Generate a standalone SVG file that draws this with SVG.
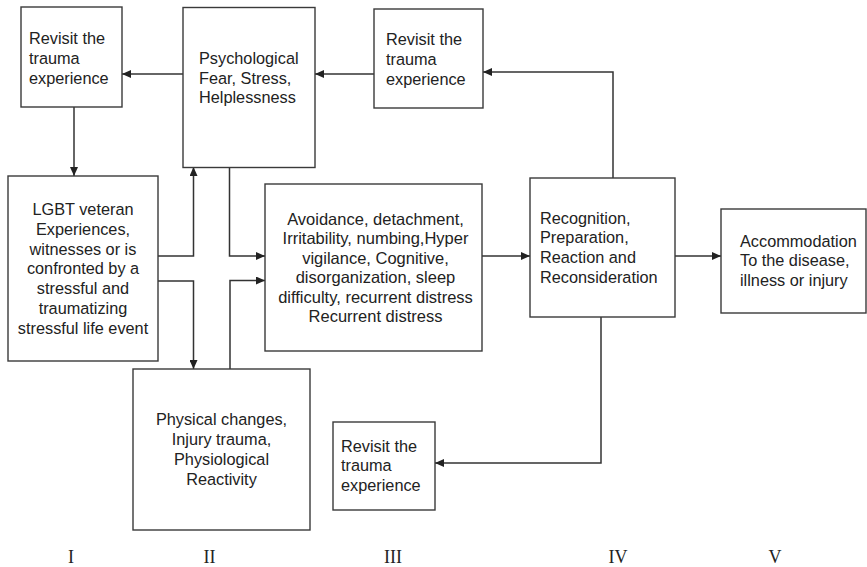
<svg xmlns="http://www.w3.org/2000/svg" width="867" height="567" viewBox="0 0 867 567">
<style>
.box{fill:#fff;stroke:#3a3a3a;stroke-width:1.4}
.t{font-family:"Liberation Sans",Arial,sans-serif;font-size:16.3px;fill:#222}
.c{text-anchor:middle}
.f{font-size:16.5px}
.num{font-family:"Liberation Serif","Times New Roman",serif;font-size:18px;fill:#222;text-anchor:middle}
.ln{fill:none;stroke:#333;stroke-width:1.5}
</style>
<defs>
<marker id="ah" markerUnits="userSpaceOnUse" markerWidth="10" markerHeight="8" refX="9" refY="4" orient="auto">
<path d="M0,0 L9,4 L0,8 z" fill="#222"/>
</marker>
</defs>
<rect width="867" height="567" fill="#fff"/>
<g id="connectors">
<path class="ln" d="M183,74 H122" marker-end="url(#ah)"/>
<path class="ln" d="M374,74 H315" marker-end="url(#ah)"/>
<path class="ln" d="M613,178 V72 H483" marker-end="url(#ah)"/>
<path class="ln" d="M74,107 V176" marker-end="url(#ah)"/>
<path class="ln" d="M158,256 H193.5 V167" marker-end="url(#ah)"/>
<path class="ln" d="M158,281 H193.5 V369" marker-end="url(#ah)"/>
<path class="ln" d="M229.5,167 V256 H265" marker-end="url(#ah)"/>
<path class="ln" d="M230,369 V280.5 H265" marker-end="url(#ah)"/>
<path class="ln" d="M482,256 H530" marker-end="url(#ah)"/>
<path class="ln" d="M675,256 H721" marker-end="url(#ah)"/>
<path class="ln" d="M601,317 V463 H435" marker-end="url(#ah)"/>
</g>
<g id="revisit1">
<rect class="box" x="21" y="7" width="101" height="100"/>
<text class="t" x="29" y="43.5">Revisit the</text>
<text class="t" x="29" y="63.5">trauma</text>
<text class="t" x="29" y="83.5">experience</text>
</g>
<g id="psychological">
<rect class="box" x="183" y="7.5" width="132" height="160"/>
<text class="t" x="199" y="64">Psychological</text>
<text class="t" x="199" y="83.5">Fear, Stress,</text>
<text class="t" x="199" y="103">Helplessness</text>
</g>
<g id="revisit2">
<rect class="box" x="374" y="9" width="109" height="99"/>
<text class="t" x="386" y="44.5">Revisit the</text>
<text class="t" x="386" y="64.5">trauma</text>
<text class="t" x="386" y="84.5">experience</text>
</g>
<g id="lgbt">
<rect class="box" x="8" y="176" width="150" height="185"/>
<text class="t c" x="83" y="215">LGBT veteran</text>
<text class="t c" x="83" y="234.8">Experiences,</text>
<text class="t c" x="83" y="254.6">witnesses or is</text>
<text class="t c" x="83" y="274.4">confronted by a</text>
<text class="t c" x="83" y="294.2">stressful and</text>
<text class="t c" x="83" y="314">traumatizing</text>
<text class="t c" x="83" y="333.8">stressful life event</text>
</g>
<g id="avoidance">
<rect class="box" x="265" y="184" width="217" height="167"/>
<text class="t c f" x="375.5" y="224.5">Avoidance, detachment,</text>
<text class="t c f" x="375.5" y="244">Irritability, numbing,Hyper</text>
<text class="t c f" x="375.5" y="263.5">vigilance, Cognitive,</text>
<text class="t c f" x="375.5" y="283">disorganization, sleep</text>
<text class="t c f" x="375.5" y="302.5">difficulty, recurrent distress</text>
<text class="t c f" x="375.5" y="322">Recurrent distress</text>
</g>
<g id="recognition">
<rect class="box" x="530" y="178" width="145" height="139"/>
<text class="t" x="540" y="223.5">Recognition,</text>
<text class="t" x="540" y="243.2">Preparation,</text>
<text class="t" x="540" y="262.9">Reaction and</text>
<text class="t" x="540" y="282.6">Reconsideration</text>
</g>
<g id="accommodation">
<rect class="box" x="721" y="209" width="145" height="104"/>
<text class="t" x="740" y="246.5">Accommodation</text>
<text class="t" x="740" y="266">To the disease,</text>
<text class="t" x="740" y="285.5">illness or injury</text>
</g>
<g id="physical">
<rect class="box" x="133" y="369" width="177" height="161"/>
<text class="t c" x="221.5" y="425">Physical changes,</text>
<text class="t c" x="221.5" y="445">Injury trauma,</text>
<text class="t c" x="221.5" y="465">Physiological</text>
<text class="t c" x="221.5" y="485">Reactivity</text>
</g>
<g id="revisit3">
<rect class="box" x="333" y="422" width="102" height="88"/>
<text class="t" x="341" y="451.5">Revisit the</text>
<text class="t" x="341" y="471">trauma</text>
<text class="t" x="341" y="490.5">experience</text>
</g>
<g id="stages">
<text class="num" x="71" y="562.5">I</text>
<text class="num" x="209.5" y="562.5">II</text>
<text class="num" x="393" y="562.5">III</text>
<text class="num" x="618" y="562.5">IV</text>
<text class="num" x="775" y="562.5">V</text>
</g>
</svg>
